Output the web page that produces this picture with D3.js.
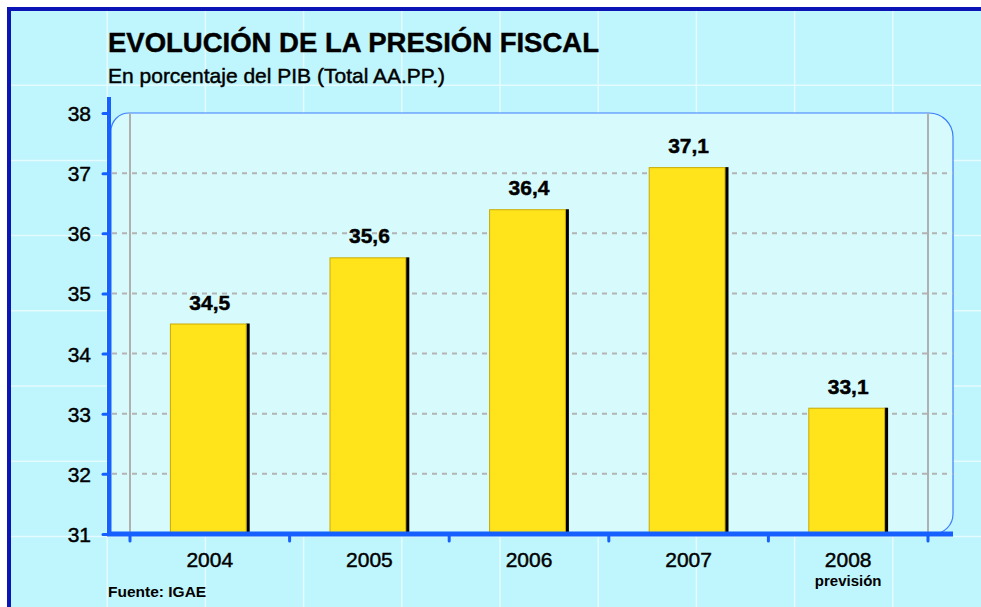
<!DOCTYPE html>
<html>
<head>
<meta charset="utf-8">
<script src="https://cdn.jsdelivr.net/npm/d3@7"></script>
<style>
    body { margin: 0; background: #fff; }
    svg { display: block; font-family: "Liberation Sans", Arial, sans-serif; }
    .heavy { stroke: #000; stroke-width: 0.45px; }
</style>
</head>
<body>
<div id="chart"></div>
<script>
// data
var years = ["2004", "2005", "2006", "2007", "2008"];
var subLabels = ["", "", "", "", "previsión"];
var values = [34.5, 35.6, 36.4, 37.1, 33.1];
var yTicks = [31, 32, 33, 34, 35, 36, 37, 38];
var title = "EVOLUCIÓN DE LA PRESIÓN FISCAL";
var subtitle = "En porcentaje del PIB (Total AA.PP.)";
var source = "Fuente: IGAE";

var W = 981, H = 607;
var blue = "#1560ff";
var fmt = d3.formatLocale({decimal: ",", thousands: ".", grouping: [3], currency: ["", "€"]}).format(".1f");

var svg = d3.select("#chart")
    .append("svg")
    .attr("width", W)
    .attr("height", H);

// outer frame
svg.append("rect")
    .attr("x", 9).attr("y", 9)
    .attr("width", W + 20).attr("height", H + 20)
    .attr("fill", "#bff5fc")
    .attr("stroke", "#0b14b4")
    .attr("stroke-width", 4);

// decorative background grid
var bg = svg.append("g").attr("stroke", "#e4fbff").attr("stroke-width", 1.5);
bg.selectAll(".vl").data(d3.range(107.2, W, 98.2)).enter()
    .append("line").attr("class", "vl")
    .attr("x1", d => d).attr("x2", d => d)
    .attr("y1", 11).attr("y2", H);
bg.selectAll(".hl").data(d3.range(85.2, H, 75.2)).enter()
    .append("line").attr("class", "hl")
    .attr("x1", 11).attr("x2", W)
    .attr("y1", d => d).attr("y2", d => d);

// scales
var y = d3.scaleLinear().domain([31, 38]).range([534, 113]);
var x = d3.scaleBand().domain(years).range([130, 928])
    .paddingInner(0.5).paddingOuter(0.25);
var step = x.step();

// inner panel (rounded except bottom-left)
var pl = 111, pr = 953, pt = y(38), pb = y(31);
var panel = d3.path();
panel.moveTo(pl, pb);
panel.lineTo(pl, pt + 18);
panel.arcTo(pl, pt, pl + 18, pt, 18);
panel.lineTo(pr - 24, pt);
panel.arcTo(pr, pt, pr, pt + 24, 24);
panel.lineTo(pr, pb - 20);
panel.arcTo(pr, pb, pr - 20, pb, 20);
panel.closePath();
svg.append("path")
    .attr("d", panel.toString())
    .attr("fill", "#d7fbfd")
    .attr("stroke", "#3d7dff")
    .attr("stroke-width", 1.2);

// dashed gridlines
svg.append("g").selectAll("line")
    .data(yTicks.filter(d => d > 31 && d < 38)).enter()
    .append("line")
    .attr("x1", pl + 1).attr("x2", pr)
    .attr("y1", d => y(d)).attr("y2", d => y(d))
    .attr("stroke", "#b4b4b4")
    .attr("stroke-width", 2)
    .attr("stroke-dasharray", "5,5");

// gray verticals at both ends of the category range
svg.append("g").selectAll("line")
    .data(x.range()).enter()
    .append("line")
    .attr("x1", d => d).attr("x2", d => d)
    .attr("y1", pt).attr("y2", pb)
    .attr("stroke", "#b0b0b0")
    .attr("stroke-width", 2);

// bars
var bw = x.bandwidth() - 3;
var bars = svg.append("g").selectAll("g")
    .data(years).enter().append("g");
bars.append("rect")
    .attr("x", d => x(d) + bw - 0.5)
    .attr("y", (d, i) => y(values[i]))
    .attr("width", 3.5)
    .attr("height", (d, i) => pb - y(values[i]))
    .attr("fill", "#000");
bars.append("rect")
    .attr("x", d => x(d) + 0.5)
    .attr("y", (d, i) => y(values[i]) + 0.5)
    .attr("width", bw - 1)
    .attr("height", (d, i) => pb - y(values[i]) - 0.5)
    .attr("fill", "#ffe41c")
    .attr("stroke", "#c9a900")
    .attr("stroke-width", 1);
bars.append("text")
    .attr("class", "heavy")
    .attr("x", d => x(d) + x.bandwidth() / 2)
    .attr("y", (d, i) => y(values[i]) - 14)
    .attr("text-anchor", "middle")
    .attr("font-size", "21px")
    .attr("font-weight", "bold")
    .text((d, i) => fmt(values[i]));

// y axis
var yAxisCall = d3.axisLeft(y).tickValues(yTicks).tickFormat(d3.format("d"))
    .tickSize(6).tickPadding(12);
var yAxis = svg.append("g")
    .attr("transform", "translate(109,0)")
    .call(yAxisCall);
yAxis.select(".domain").remove();
yAxis.selectAll(".tick line")
    .attr("stroke", blue).attr("stroke-width", 3).attr("stroke-linecap", "round");
yAxis.selectAll(".tick text")
    .attr("class", "heavy")
    .attr("font-size", "21px").attr("fill", "#000")
    .attr("font-family", "Liberation Sans, Arial, sans-serif")
    .attr("dy", "0.36em");
svg.append("line")
    .attr("x1", 109).attr("x2", 109)
    .attr("y1", 97).attr("y2", pb + 2)
    .attr("stroke", blue).attr("stroke-width", 4);

// x axis
var xTickPos = years.map(d => x(d) - step * x.paddingOuter()).concat([x.range()[1]]);
svg.append("g").selectAll("line")
    .data(xTickPos).enter()
    .append("line")
    .attr("x1", d => d).attr("x2", d => d)
    .attr("y1", pb).attr("y2", pb + 7)
    .attr("stroke", blue).attr("stroke-width", 3).attr("stroke-linecap", "round");
svg.append("line")
    .attr("x1", 107).attr("x2", pr)
    .attr("y1", pb).attr("y2", pb)
    .attr("stroke", blue).attr("stroke-width", 5);
var xl = svg.append("g").selectAll("g")
    .data(years).enter().append("g");
xl.append("text")
    .attr("class", "heavy")
    .attr("x", d => x(d) + x.bandwidth() / 2)
    .attr("y", 567)
    .attr("text-anchor", "middle")
    .attr("font-size", "21px")
    .text(d => d);
xl.append("text")
    .attr("x", d => x(d) + x.bandwidth() / 2)
    .attr("y", 586)
    .attr("text-anchor", "middle")
    .attr("font-size", "15px")
    .attr("font-weight", "bold")
    .text((d, i) => subLabels[i]);

// titles
svg.append("text")
    .attr("class", "heavy")
    .attr("x", 108).attr("y", 52)
    .attr("font-size", "27.5px")
    .attr("font-weight", "bold")
    .text(title);
svg.append("text")
    .attr("class", "heavy")
    .attr("x", 108).attr("y", 83)
    .attr("font-size", "21px")
    .text(subtitle);
svg.append("text")
    .attr("x", 108).attr("y", 597)
    .attr("font-size", "15.5px")
    .attr("font-weight", "bold")
    .text(source);
</script>
</body>
</html>
